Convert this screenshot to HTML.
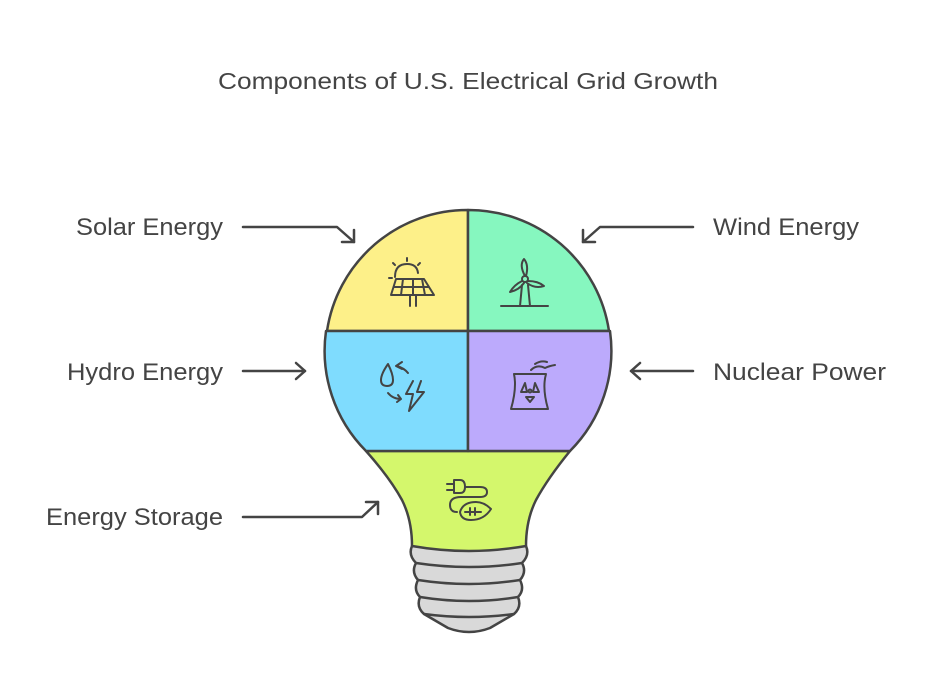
<!DOCTYPE html>
<html><head><meta charset="utf-8"><style>
html,body{margin:0;padding:0;background:#fff;}
svg{display:block;}
text{font-family:"Liberation Sans",sans-serif;fill:#444;}
</style></head><body>
<svg width="936" height="700" viewBox="0 0 936 700" xmlns="http://www.w3.org/2000/svg">
<text x="218" y="89" font-size="23" textLength="500" lengthAdjust="spacingAndGlyphs">Components of U.S. Electrical Grid Growth</text>

<text x="76" y="235" font-size="24" textLength="147" lengthAdjust="spacingAndGlyphs">Solar Energy</text>
<text x="67" y="380" font-size="24" textLength="156" lengthAdjust="spacingAndGlyphs">Hydro Energy</text>
<text x="46" y="525" font-size="24" textLength="177" lengthAdjust="spacingAndGlyphs">Energy Storage</text>
<text x="713" y="235" font-size="24" textLength="146" lengthAdjust="spacingAndGlyphs">Wind Energy</text>
<text x="713" y="380" font-size="24" textLength="173" lengthAdjust="spacingAndGlyphs">Nuclear Power</text>

<g fill="none" stroke="#444" stroke-width="2.5" stroke-linecap="round" stroke-linejoin="round">
<path d="M243 227 H337 L354 242"/><path d="M342 242 H354 V230"/>
<path d="M693 227 H600 L583 242"/><path d="M583 230 V242 H595"/>
<path d="M243 371 H305"/><path d="M296 363 L305 371 L296 379"/>
<path d="M693 371 H631"/><path d="M640 363 L631 371 L640 379"/>
<path d="M243 517 H362 L378 502"/><path d="M366 502 H378 V514"/>
</g>

<g stroke="#444" stroke-width="2.5" stroke-linejoin="round">
<!-- base -->
<path d="M412 546 H526 Q530 555 522 563 Q527 572 520 580 Q525 590 518 597 Q522 607 514 614 L490 628 Q469 636 448 628 L424 614 Q416 607 420 597 Q413 590 418 580 Q411 572 416 563 Q408 555 412 546 Z" fill="#d9d9d9"/>
<path d="M416 563 Q469 571 522 563 M418 580 Q469 588 520 580 M420 597 Q469 605 518 597 M424 614 Q469 620 514 614" fill="none"/>
<!-- green -->
<path d="M366 451 H570 Q548 478 536 500 Q526 520 526 546 Q469 556 412 546 Q412 520 402 500 Q390 478 366 451 Z" fill="#d4f76c"/>
<!-- quadrants -->
<path d="M468 331 V210 A142 142 0 0 0 327 331 Z" fill="#fdf089"/>
<path d="M468 331 V210 A142 142 0 0 1 609 331 Z" fill="#86f7bf"/>
<path d="M468 331 H326 A142 142 0 0 0 366 451 H468 Z" fill="#7fdcfe"/>
<path d="M468 331 H610 A142 142 0 0 1 570 451 H468 Z" fill="#bcaafc"/>
</g>

<!-- icons -->
<g fill="none" stroke="#444" stroke-width="2" stroke-linecap="round" stroke-linejoin="round">
<!-- solar -->
<path d="M395 277 Q395 264 407 264 Q417 264 418 273"/>
<path d="M407 258 V261 M393 263 L395 265 M420 263 L418 265 M389 278 H392"/>
<path d="M396 279 H424 L434 295 H391 Z M394 287 H429 M403 279 L401 295 M413 279 V295 M422 279 L425 295 M410 295 V306 M416 295 V306"/>
<!-- wind -->
<circle cx="525" cy="279" r="3"/>
<path d="M525 276 Q519 265 524 259 Q529 265 526 276 M528 281 Q538 281 544 286 Q535 289 527 283 M522 281 Q514 285 510 292 Q519 290 524 283"/>
<path d="M522 285 L520 306 M528 285 L530 306 M501 306 H548"/>
<!-- hydro -->
<path d="M388 364 Q381 374 381 380 Q381 386 387 386 Q393 386 393 380 Q393 374 388 364 Z"/>
<path d="M402 369 L396 366 L402 362 M397 366 Q404 368 408 373"/>
<path d="M388 393 Q393 399 401 399 M398 395 L401 399 L397 402"/>
<path d="M413 381 L406 394 H413 L409 411 L424 392 H417 L421 381"/>
<!-- nuclear -->
<path d="M535 364 Q541 360 547 362 M531 370 Q537 364 545 368 Q549 366 555 365"/>
<path d="M514 374 H546 Q542 388 548 409 H511 Q517 388 514 374 Z"/>
<circle cx="530" cy="391" r="1.5"/>
<path d="M525 383 L521 392 H527 Z M535 383 L539 392 H533 Z M526 397 L534 397 L530 402 Z"/>
<!-- storage -->
<path d="M447 484 H454 M447 490 H454 M454 480 H460 Q465 480 465 487 Q465 493 460 493 H454 Z M465 487 H480 Q487 487 487 492 Q487 497 480 497 H461 Q450 497 450 505 Q450 512 457 512"/>
<path d="M460 512 Q463 502 476 502 Q484 502 491 509 Q484 520 471 520 Q461 520 460 512 Z M465 512 H481 M470 508 V515 M475 508 V515"/>
</g>
</svg>
</body></html>
